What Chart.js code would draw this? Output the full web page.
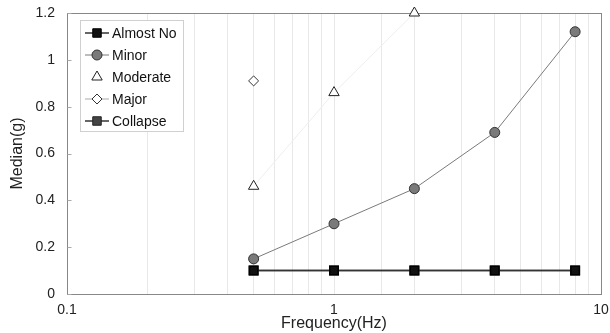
<!DOCTYPE html>
<html>
<head>
<meta charset="utf-8">
<script src="https://cdn.jsdelivr.net/npm/chart.js@4.4.1/dist/chart.umd.min.js"></script>
<style>
  html, body { margin: 0; padding: 0; background: #fff; }
  #wrap { width: 610px; height: 333px; }
</style>
</head>
<body>
<div id="wrap"><canvas id="freqChart" width="610" height="333"></canvas></div>
<script>
const freqs = [0.5, 1, 2, 4, 8];
const almostNo = [0.1, 0.1, 0.1, 0.1, 0.1];
const minor = [0.15, 0.30, 0.45, 0.69, 1.12];
const moderate = [0.46, 0.86, 1.2];
const major = [0.91];
const collapse = [0.1, 0.1, 0.1, 0.1, 0.1];
const xLabels = [0.1, 1, 10];

const pts = (ys) => ys.map((y, i) => ({ x: freqs[i], y: y }));
const FONT = '"Liberation Sans", Arial, sans-serif';

// grey frame round the plot area + small inward ticks on the y axis
const frame = {
  id: 'frame',
  beforeDatasetsDraw(chart) {
    const a = chart.chartArea, c = chart.ctx;
    const l = Math.round(a.left) + 0.5;
    c.save();
    c.strokeStyle = '#888';
    c.lineWidth = 1;
    c.strokeRect(l, Math.round(a.top) + 0.5,
      Math.round(a.right - a.left), Math.round(a.bottom - a.top));
    c.strokeStyle = '#aaa';
    chart.scales.y.ticks.forEach(t => {
      const y = Math.round(chart.scales.y.getPixelForValue(t.value)) + 0.5;
      c.beginPath();
      c.moveTo(l, y);
      c.lineTo(l + 4, y);
      c.stroke();
    });
    c.restore();
  }
};

// legend drawn inside the plot, top-left, with line + marker samples
const boxLegend = {
  id: 'boxLegend',
  afterDraw(chart) {
    const c = chart.ctx;
    const x0 = 80, y0 = 20, w = 103, h = 111;
    c.save();
    c.fillStyle = '#fff';
    c.fillRect(x0, y0, w, h);
    c.strokeStyle = '#d0d0d0';
    c.lineWidth = 1;
    c.strokeRect(x0 + 0.5, y0 + 0.5, w, h);
    c.font = '14px ' + FONT;
    c.textBaseline = 'middle';
    chart.data.datasets.forEach((ds, i) => {
      const y = y0 + 13 + i * 22;
      const mx = x0 + 17;
      const line = ds.legendLine || ds.borderColor;
      c.strokeStyle = line;
      c.lineWidth = ds.borderWidth;
      c.beginPath();
      c.moveTo(x0 + 5, y);
      c.lineTo(x0 + 29, y);
      c.stroke();
      c.fillStyle = ds.pointBackgroundColor;
      c.strokeStyle = ds.pointBorderColor;
      c.lineWidth = 1;
      Chart.helpers.drawPoint(c, {
        pointStyle: ds.pointStyle,
        radius: ds.pointRadius,
        rotation: 0,
        borderWidth: 1
      }, mx, y);
      c.fillStyle = '#111';
      c.fillText(ds.label, x0 + 32, y + 1);
    });
    c.restore();
  }
};

new Chart(document.getElementById('freqChart'), {
  type: 'line',
  data: {
    datasets: [
      {
        label: 'Almost No', data: pts(almostNo), clip: false,
        borderColor: '#333', borderWidth: 1.5,
        pointStyle: 'rect', pointRadius: 6,
        pointBackgroundColor: '#111', pointBorderColor: '#000'
      },
      {
        label: 'Minor', data: pts(minor), clip: false,
        borderColor: '#7a7a7a', borderWidth: 1,
        pointStyle: 'circle', pointRadius: 5,
        pointBackgroundColor: '#7a7a7a', pointBorderColor: '#333'
      },
      {
        label: 'Moderate', data: pts(moderate), clip: false,
        borderColor: '#eeeeee', legendLine: 'rgba(0,0,0,0)', borderWidth: 1,
        pointStyle: 'triangle', pointRadius: 6,
        pointBackgroundColor: '#fff', pointBorderColor: '#222'
      },
      {
        label: 'Major', data: pts(major), clip: false,
        borderColor: '#aaa', borderWidth: 1,
        pointStyle: 'rectRot', pointRadius: 5,
        pointBackgroundColor: '#fff', pointBorderColor: '#333'
      },
      {
        label: 'Collapse', data: pts(collapse), clip: false,
        borderColor: '#333', borderWidth: 1.5,
        pointStyle: 'rect', pointRadius: 6,
        pointBackgroundColor: '#444', pointBorderColor: '#222'
      }
    ]
  },
  options: {
    responsive: false,
    animation: false,
    layout: { padding: { top: 13, right: 9, left: 0, bottom: 0 } },
    plugins: {
      legend: { display: false },
      tooltip: { enabled: false }
    },
    scales: {
      x: {
        type: 'logarithmic',
        min: 0.1, max: 10,
        afterFit: (s) => { s.height = 39; s.paddingRight = 0; },
        border: { display: false },
        grid: { color: '#e8e8e8', drawTicks: false },
        ticks: {
          autoSkip: false, maxRotation: 0, padding: 8,
          color: '#222',
          font: { family: FONT, size: 14 },
          callback: (v) => xLabels.includes(v) ? String(v) : ''
        },
        title: {
          display: true, text: 'Frequency(Hz)', color: '#222', padding: { top: 0, bottom: 0 },
          font: { family: FONT, size: 16 }
        }
      },
      y: {
        min: 0, max: 1.2,
        afterFit: (s) => { s.width = 67; s.paddingTop = 0; },
        border: { display: false },
        grid: { display: false },
        ticks: {
          stepSize: 0.2, padding: 4, color: '#222',
          font: { family: FONT, size: 14 },
          callback: (v) => String(Math.round(v * 10) / 10)
        },
        title: {
          display: true, text: 'Median(g)', color: '#222', padding: { top: 8, bottom: 0 },
          font: { family: FONT, size: 16 }
        }
      }
    }
  },
  plugins: [frame, boxLegend]
});
</script>
</body>
</html>
